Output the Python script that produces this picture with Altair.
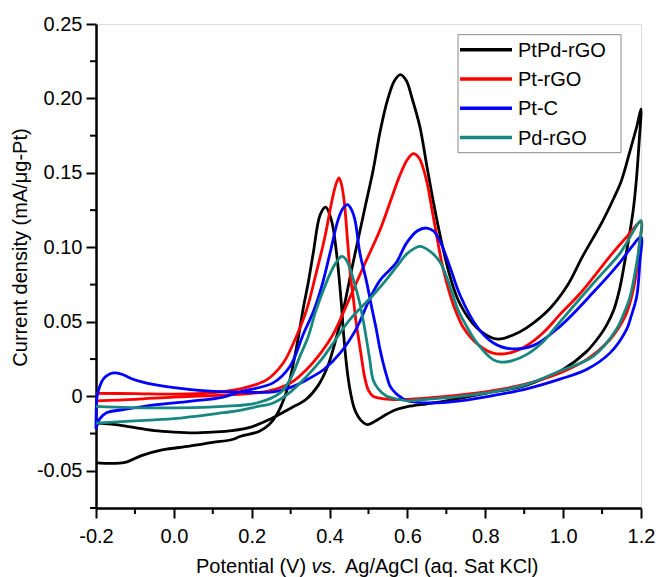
import altair as alt
import pandas as pd

series = ["PtPd-rGO", "Pt-rGO", "Pt-C", "Pd-rGO"]
colors = ["#000000", "#ff0000", "#0000ff", "#17877f"]

# ---- PtPd-rGO (forward scan then backward scan) ----
ptpd_v = [-0.2, -0.15, -0.1, -0.05, 0.0, 0.05, 0.1, 0.15, 0.2, 0.25, 0.3, 0.34, 0.37, 0.395, 0.418,
          0.437, 0.455, 0.473, 0.492, 0.512, 0.53, 0.55, 0.567, 0.582, 0.597, 0.612, 0.632, 0.649,
          0.667, 0.684, 0.71, 0.735, 0.778, 0.82, 0.84, 0.87, 0.906, 0.966, 1.01, 1.05, 1.1, 1.13,
          1.15, 1.172, 1.19, 1.2,
          1.195, 1.188, 1.18, 1.17, 1.158, 1.145, 1.13, 1.112, 1.095, 1.06, 1.0, 0.95, 0.9, 0.8, 0.7,
          0.65, 0.6, 0.57, 0.54, 0.515, 0.497, 0.48, 0.468, 0.461, 0.452, 0.444, 0.436, 0.43, 0.418,
          0.405, 0.39, 0.376, 0.358, 0.345, 0.333, 0.32, 0.307, 0.295, 0.281, 0.265, 0.245, 0.22,
          0.17, 0.15, 0.1, 0.04, -0.03, -0.085, -0.12, -0.15, -0.2]
ptpd_i = [-0.018, -0.019, -0.021, -0.023, -0.024, -0.0245, -0.024, -0.023, -0.0205, -0.015, -0.008,
          -0.002, 0.007, 0.02, 0.04, 0.06, 0.083, 0.105, 0.128, 0.152, 0.178, 0.2, 0.212, 0.216, 0.212,
          0.2, 0.181, 0.156, 0.13, 0.108, 0.08, 0.062, 0.046, 0.039, 0.0385, 0.041, 0.046, 0.059,
          0.074, 0.094, 0.117, 0.133, 0.145, 0.165, 0.182, 0.193,
          0.17, 0.145, 0.125, 0.108, 0.09, 0.072, 0.058, 0.048, 0.041, 0.03, 0.018, 0.012, 0.007,
          0.002, -0.003, -0.005, -0.007, -0.009, -0.013, -0.017, -0.019, -0.016, -0.011, -0.006,
          0.005, 0.02, 0.042, 0.063, 0.096, 0.118, 0.127, 0.122, 0.096, 0.076, 0.06, 0.04, 0.022,
          0.008, -0.003, -0.012, -0.019, -0.0235, -0.027, -0.029, -0.031, -0.0335, -0.036, -0.04,
          -0.044, -0.045, -0.0447]

# ---- Pt-rGO ----
ptr_v = [-0.2, -0.1, 0.0, 0.1, 0.2, 0.25, 0.3, 0.341, 0.38, 0.41, 0.435, 0.455, 0.487, 0.53, 0.555,
         0.58, 0.6, 0.615, 0.63, 0.649, 0.662, 0.675, 0.688, 0.701, 0.72, 0.744, 0.78, 0.82, 0.86,
         0.906, 0.95, 0.992, 1.04, 1.078, 1.12, 1.163, 1.2,
         1.195, 1.185, 1.163, 1.14, 1.12, 1.06, 0.992, 0.9, 0.8, 0.7, 0.6, 0.555, 0.525, 0.512, 0.5,
         0.49, 0.482, 0.475, 0.468, 0.461, 0.454, 0.446, 0.438, 0.43, 0.424, 0.416, 0.405, 0.388,
         0.363, 0.341, 0.311, 0.281, 0.238, 0.17, 0.1, 0.0, -0.1, -0.2]
ptr_i = [-0.003, -0.002, -0.0005, 0.0005, 0.002, 0.004, 0.009, 0.018, 0.03, 0.042, 0.056, 0.068,
         0.087, 0.112, 0.13, 0.148, 0.159, 0.163, 0.16, 0.145, 0.127, 0.108, 0.09, 0.076, 0.06,
         0.046, 0.035, 0.029, 0.029, 0.034, 0.043, 0.055, 0.068, 0.08, 0.094, 0.107, 0.117,
         0.1, 0.078, 0.056, 0.045, 0.038, 0.0246, 0.0157, 0.008, 0.003, 0.0, -0.002, -0.002, -0.001,
         0.0, 0.004, 0.013, 0.026, 0.038, 0.05, 0.066, 0.08, 0.105, 0.13, 0.143, 0.1466, 0.142, 0.13,
         0.107, 0.08, 0.058, 0.038, 0.0224, 0.011, 0.005, 0.0025, 0.0015, 0.0018, 0.002]

# ---- Pt-C ----
ptc_v = [-0.2, -0.197, -0.19, -0.18, -0.165, -0.15, -0.13, -0.11, -0.087, -0.05, 0.0, 0.084, 0.17,
         0.255, 0.3, 0.341, 0.385, 0.427, 0.47, 0.504, 0.53, 0.555, 0.572, 0.598, 0.625, 0.649, 0.667,
         0.684, 0.709, 0.735, 0.778, 0.82, 0.863, 0.923, 0.992, 1.078, 1.146, 1.175, 1.2,
         1.197, 1.189, 1.175, 1.163, 1.12, 1.06, 0.992, 0.906, 0.82, 0.735, 0.658, 0.6, 0.585, 0.57,
         0.555, 0.547, 0.538, 0.53, 0.52, 0.508, 0.495, 0.478, 0.465, 0.455, 0.446, 0.434, 0.422,
         0.401, 0.38, 0.36, 0.333, 0.298, 0.255, 0.17, 0.127, 0.041, -0.044, -0.13, -0.173, -0.19, -0.2]
ptc_i = [-0.022, 0.0, 0.007, 0.012, 0.015, 0.0157, 0.0145, 0.012, 0.01, 0.0078, 0.0058, 0.0036,
         0.0028, 0.003, 0.006, 0.011, 0.018, 0.029, 0.046, 0.066, 0.078, 0.085, 0.09, 0.103, 0.111,
         0.113, 0.111, 0.104, 0.087, 0.068, 0.047, 0.036, 0.032, 0.034, 0.047, 0.07, 0.09, 0.1, 0.107,
         0.09, 0.067, 0.054, 0.045, 0.029, 0.018, 0.0115, 0.005, 0.0005, -0.003, -0.0045, -0.003,
         -0.001, 0.002, 0.007, 0.0134, 0.022, 0.031, 0.045, 0.06, 0.077, 0.096, 0.1186, 0.126,
         0.1287, 0.126, 0.1186, 0.096, 0.074, 0.058, 0.042, 0.02, 0.009, 0.003, -0.0005, -0.0034,
         -0.0056, -0.009, -0.011, -0.015, -0.022]

# ---- Pd-rGO ----
pdr_v = [-0.2, -0.1, -0.044, 0.0, 0.127, 0.17, 0.213, 0.255, 0.3, 0.341, 0.38, 0.41, 0.452, 0.512,
         0.545, 0.572, 0.6, 0.632, 0.66, 0.684, 0.705, 0.73, 0.75, 0.778, 0.82, 0.84, 0.87, 0.906,
         0.95, 0.992, 1.078, 1.146, 1.163, 1.2,
         1.195, 1.189, 1.172, 1.155, 1.137, 1.078, 0.992, 0.906, 0.82, 0.735, 0.65, 0.6, 0.56, 0.547,
         0.525, 0.512, 0.503, 0.495, 0.487, 0.478, 0.465, 0.452, 0.442, 0.431, 0.42, 0.41, 0.388,
         0.363, 0.345, 0.324, 0.3, 0.273, 0.213, 0.127, -0.044, -0.2]
pdr_i = [-0.018, -0.0165, -0.0157, -0.015, -0.011, -0.0095, -0.007, -0.0045, 0.003, 0.0134, 0.025,
         0.036, 0.0515, 0.068, 0.078, 0.087, 0.096, 0.1007, 0.097, 0.09, 0.077, 0.058, 0.048, 0.036,
         0.0246, 0.023, 0.024, 0.028, 0.037, 0.05, 0.076, 0.096, 0.103, 0.118,
         0.1, 0.0895, 0.067, 0.055, 0.045, 0.027, 0.017, 0.008, 0.003, 0.0, -0.002, -0.003, -0.001,
         0.0, 0.005, 0.011, 0.025, 0.038, 0.05, 0.062, 0.075, 0.086, 0.092, 0.094, 0.091, 0.087,
         0.074, 0.056, 0.04, 0.027, 0.012, 0.0023, -0.0045, -0.0067, -0.0078, -0.0067]

x_major = [-0.2, 0.0, 0.2, 0.4, 0.6, 0.8, 1.0, 1.2]
x_minor = [-0.1, 0.1, 0.3, 0.5, 0.7, 0.9, 1.1]
y_major = [-0.05, 0.0, 0.05, 0.1, 0.15, 0.2, 0.25]
y_minor = [-0.075, -0.025, 0.025, 0.075, 0.125, 0.175, 0.225]

x_title_parts = ["Potential (V)", "vs.", "Ag/AgCl (aq. Sat KCl)"]
y_title = "Current density (mA/\u03bcg-Pt)"

FONT = "Liberation Sans"
W, H = 545, 484

rows = []
for name, vs, cs in zip(series, [ptpd_v, ptr_v, ptc_v, pdr_v], [ptpd_i, ptr_i, ptc_i, pdr_i]):
    for k, (v, c) in enumerate(zip(vs, cs)):
        rows.append({"series": name, "E": v, "J": c, "k": k})
df = pd.DataFrame(rows)

xscale = alt.Scale(domain=[-0.2, 1.2], nice=False, zero=False)
yscale = alt.Scale(domain=[-0.075, 0.25], nice=False, zero=False)

xaxis = alt.Axis(values=x_major, title=None, grid=False, tickSize=10, tickWidth=2, tickColor="black",
                 domainColor="black", domainWidth=2.5, labelFontSize=20, labelFont=FONT,
                 labelColor="black", labelPadding=8, labelFlush=False, labelOverlap=False,
                 labelExpr="datum.value < 0 ? '-' + format(-datum.value, '.1f') : format(datum.value, '.1f')")
yaxis = alt.Axis(values=y_major, title=y_title, grid=False, tickSize=10, tickWidth=2, tickColor="black",
                 domainColor="black", domainWidth=2.5, labelFontSize=20, labelFont=FONT,
                 labelColor="black", labelPadding=4, labelFlush=False, labelOverlap=False,
                 labelExpr="datum.value == 0 ? '0' : (datum.value < 0 ? '-' + format(-datum.value, '.2f') : format(datum.value, '.2f'))",
                 titleFont=FONT, titleFontSize=20, titleFontWeight="normal", titleColor="black",
                 titleX=-69.5, titleY=223, titleAngle=270, titleAlign="center", titleBaseline="alphabetic")

base = alt.Chart(df).encode(
    x=alt.X("E:Q", scale=xscale, axis=xaxis),
    y=alt.Y("J:Q", scale=yscale, axis=yaxis),
    order=alt.Order("k:Q"),
)
layers = []
for name, col in zip(series, colors):
    layers.append(
        base.transform_filter(alt.datum.series == name)
        .mark_line(color=col, strokeWidth=2.8, interpolate="catmull-rom", clip=False)
    )

xminor = alt.Chart(pd.DataFrame({"E": x_minor})).mark_rule(color="black", strokeWidth=2).encode(
    x=alt.X("E:Q", scale=xscale, axis=xaxis), y=alt.value(H), y2=alt.value(H + 6))
yminor = alt.Chart(pd.DataFrame({"J": y_minor})).mark_rule(color="black", strokeWidth=2).encode(
    y=alt.Y("J:Q", scale=yscale, axis=yaxis), x=alt.value(-6), x2=alt.value(0))

# x-axis title with italic "vs." (positions in plot-area pixels)
title_x = [100, 215.6, 249]
title_style = ["normal", "italic", "normal"]
title_layers = []
for txt, xp, st in zip(x_title_parts, title_x, title_style):
    title_layers.append(
        alt.Chart(pd.DataFrame({"t": [txt]})).mark_text(
            align="left", baseline="alphabetic", fontSize=20, font=FONT, fontStyle=st, color="black"
        ).encode(text="t:N", x=alt.value(xp), y=alt.value(548.7))
    )

# legend box drawn by hand
lx0, lx1, ly0, ly1 = 362, 525, 10.7, 128.7
legend_box = alt.Chart(pd.DataFrame({"a": [0]})).mark_rect(
    fill="white", stroke="#8a8a8a", strokeWidth=1).encode(
    x=alt.value(lx0), x2=alt.value(lx1), y=alt.value(ly0), y2=alt.value(ly1))
legend_layers = [legend_box]
for i, (name, col) in enumerate(zip(series, colors)):
    yy = 25.7 + 29.3 * i
    legend_layers.append(
        alt.Chart(pd.DataFrame({"a": [0]})).mark_rule(color=col, strokeWidth=3.5).encode(
            x=alt.value(364), x2=alt.value(416), y=alt.value(yy)))
    legend_layers.append(
        alt.Chart(pd.DataFrame({"t": [name]})).mark_text(
            align="left", baseline="middle", fontSize=20, font=FONT, color="black").encode(
            text="t:N", x=alt.value(422), y=alt.value(yy + 1)))

chart = alt.layer(*layers, xminor, yminor, *legend_layers, *title_layers).properties(
    width=W, height=H,
    padding={"left": 96, "top": 24, "right": 21, "bottom": 69},
    autosize=alt.AutoSizeParams(type="none"),
    background="white",
).configure_view(stroke="black", strokeWidth=2.5).configure(font=FONT)

chart.save("out.html", embed_options={"renderer": "svg", "actions": False})
